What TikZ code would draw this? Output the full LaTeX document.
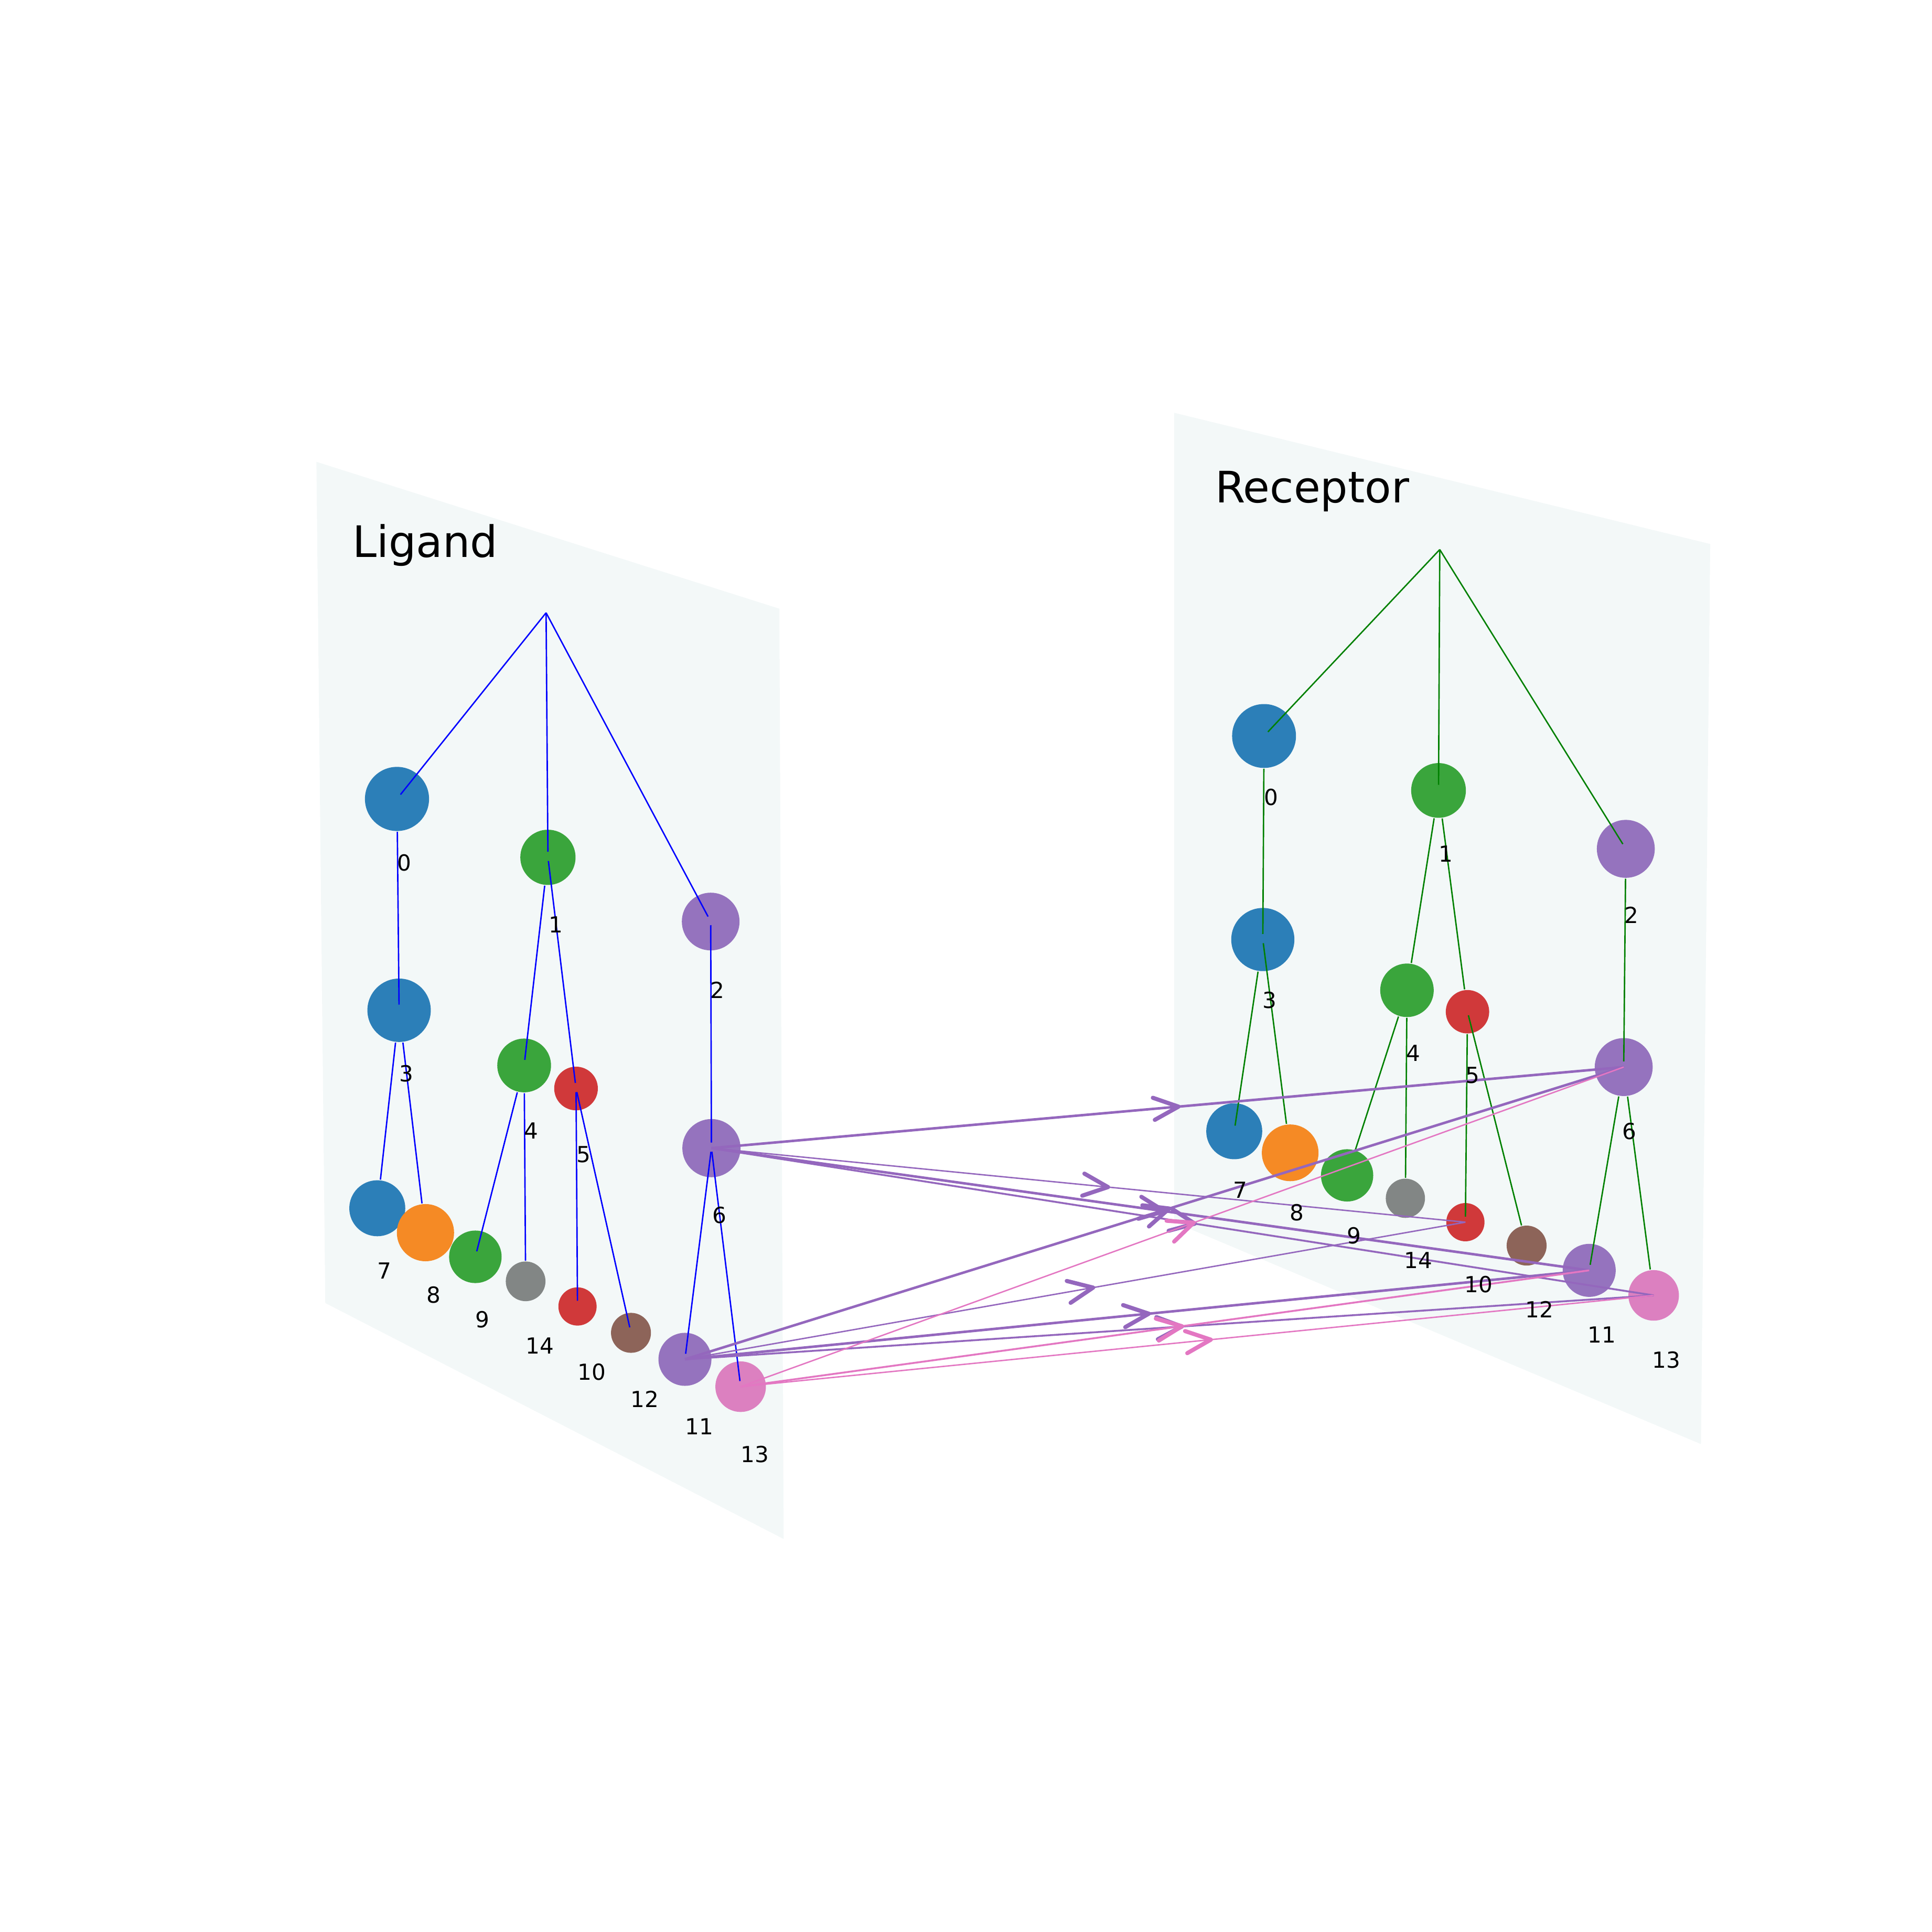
\documentclass[tikz,border=0pt]{standalone}
\usepackage{fontspec}
\setmainfont{DejaVu Sans}
\usetikzlibrary{calc,decorations.markings}
\definecolor{planec}{RGB}{243,248,248}
\definecolor{nblue}{RGB}{44,127,184}
\definecolor{norange}{RGB}{245,138,37}
\definecolor{ngreen}{RGB}{58,165,60}
\definecolor{nred}{RGB}{208,57,58}
\definecolor{npurple}{RGB}{149,115,190}
\definecolor{nbrown}{RGB}{141,100,89}
\definecolor{ngray}{RGB}{130,134,133}
\definecolor{npink}{RGB}{220,128,192}
\definecolor{apurple}{RGB}{148,103,189}
\definecolor{apink}{RGB}{227,119,194}
\definecolor{tgreen}{RGB}{0,128,0}
\begin{document}
\begin{tikzpicture}[x=0.01cm,y=-0.01cm,
  planefill/.style={fill=planec,draw=none},
  nd/.style 2 args={circle,fill=#1,draw=none,inner sep=0pt,minimum size=#2},
  lab/.style={font=\fontsize{5.1}{6}\selectfont,inner sep=0pt,text=black},
  ttl/.style={font=\fontsize{10}{12}\selectfont,inner sep=0pt,anchor=base west},
  edgeL/.style={draw=blue,line width=0.32pt},
  edgeR/.style={draw=tgreen,line width=0.32pt},
  fromc/.style={shorten <=0.85pt},
  toc/.style={shorten >=1.3pt},
  chev/.style 2 args={postaction={decorate,decoration={markings,
     mark=at position #1 with {\draw[#2,line width=0.95pt,line cap=round,line join=round]
       (-2.01mm,0.9mm) -- (0,0) -- (-2.01mm,-0.9mm);}}}},
  arP/.style={draw=apurple},
  arK/.style={draw=apink},
  thk/.style={line width=0.58pt},
  med/.style={line width=0.43pt},
  thn/.style={line width=0.32pt}]
\useasboundingbox (0,0) rectangle (1568,1568);
% planes
\fill[planefill] (256.8,374.8) -- (632.5,494) -- (636,1249) -- (264,1057.5) -- cycle;
\fill[planefill] (953,335) -- (1388,441.5) -- (1380.5,1172) -- (953,992) -- cycle;
% titles
\node[ttl] (tL) at (285.5,452.2) {Ligand};
\node[ttl] (tR) at (985.5,408) {Receptor};
% roots
\coordinate (rootL) at (443.2,497.3);
\coordinate (rootR) at (1168.5,446);
% ligand nodes
\node[nd={nblue}{0.520cm}] (L0) at (322.2,648.4) {};
\node[nd={ngreen}{0.448cm}] (L1) at (444.7,695.8) {};
\node[nd={npurple}{0.468cm}] (L2) at (576.8,747.9) {};
\node[nd={nblue}{0.514cm}] (L3) at (323.9,819.9) {};
\node[nd={ngreen}{0.436cm}] (L4) at (425.4,864.7) {};
\node[nd={nred}{0.354cm}] (L5) at (467.5,883.4) {};
\node[nd={npurple}{0.472cm}] (L6) at (577.4,931.8) {};
\node[nd={nblue}{0.454cm}] (L7) at (306.2,980.6) {};
\node[nd={norange}{0.464cm}] (L8) at (345.3,1000.4) {};
\node[nd={ngreen}{0.426cm}] (L9) at (385.8,1020.0) {};
\node[nd={ngray}{0.322cm}] (L14) at (426.6,1039.9) {};
\node[nd={nred}{0.310cm}] (L10) at (468.7,1060.3) {};
\node[nd={nbrown}{0.324cm}] (L12) at (512.1,1081.7) {};
\node[nd={npurple}{0.430cm}] (L11) at (555.9,1103.2) {};
\node[nd={npink}{0.410cm}] (L13) at (601.1,1125.4) {};
% receptor nodes
\node[nd={nblue}{0.518cm}] (R0) at (1025.9,597.3) {};
\node[nd={ngreen}{0.444cm}] (R1) at (1167.5,641.5) {};
\node[nd={npurple}{0.470cm}] (R2) at (1319.5,688.9) {};
\node[nd={nblue}{0.512cm}] (R3) at (1024.9,762.5) {};
\node[nd={ngreen}{0.434cm}] (R4) at (1141.9,803.7) {};
\node[nd={nred}{0.352cm}] (R5) at (1191.0,821.1) {};
\node[nd={npurple}{0.470cm}] (R6) at (1317.8,866.0) {};
\node[nd={nblue}{0.454cm}] (R7) at (1001.7,918.1) {};
\node[nd={norange}{0.460cm}] (R8) at (1047.1,935.6) {};
\node[nd={ngreen}{0.424cm}] (R9) at (1093.3,953.9) {};
\node[nd={ngray}{0.318cm}] (R14) at (1140.6,972.5) {};
\node[nd={nred}{0.310cm}] (R10) at (1189.3,991.9) {};
\node[nd={nbrown}{0.324cm}] (R12) at (1239.0,1010.9) {};
\node[nd={npurple}{0.430cm}] (R11) at (1289.8,1031.0) {};
\node[nd={npink}{0.410cm}] (R13) at (1342.1,1051.3) {};
% ligand tree edges
\draw[edgeL,toc] (rootL) -- (L0.center);
\draw[edgeL,toc] (rootL) -- (L1.center);
\draw[edgeL,toc] (rootL) -- (L2.center);
\draw[edgeL,toc] (L0) -- (L3.center);
\draw[edgeL,toc] (L1) -- (L4.center);
\draw[edgeL,fromc,toc] (L1.center) -- (L5.center);
\draw[edgeL,fromc,toc] (L2.center) -- (L6.center);
\draw[edgeL] (L3) -- (L7);
\draw[edgeL] (L3) -- (L8);
\draw[edgeL,toc] (L4) -- (L9.center);
\draw[edgeL] (L4) -- (L14);
\draw[edgeL,fromc,toc] (L5.center) -- (L10.center);
\draw[edgeL,fromc,toc] (L5.center) -- (L12.center);
\draw[edgeL,fromc,toc] (L6.center) -- (L11.center);
\draw[edgeL,fromc,toc] (L6.center) -- (L13.center);
% receptor tree edges
\draw[edgeR,toc] (rootR) -- (R0.center);
\draw[edgeR,toc] (rootR) -- (R1.center);
\draw[edgeR,toc] (rootR) -- (R2.center);
\draw[edgeR,toc] (R0) -- (R3.center);
\draw[edgeR,toc] (R3) -- (R7.center);
\draw[edgeR,fromc] (R3.center) -- (R8);
\draw[edgeR] (R1) -- (R4);
\draw[edgeR] (R1) -- (R5);
\draw[edgeR] (R4) -- (R9);
\draw[edgeR] (R4) -- (R14);
\draw[edgeR,toc] (R5) -- (R10.center);
\draw[edgeR,fromc] (R5.center) -- (R12);
\draw[edgeR,toc] (R2) -- (R6.center);
\draw[edgeR,toc] (R6) -- (R11.center);
\draw[edgeR] (R6) -- (R13);
% correspondence arrows
\draw[arP,thk,chev={0.512}{apurple}] (L6.center) -- (R6.center);
\draw[arP,thn,chev={0.526}{apurple}] (L6.center) -- (R10.center);
\draw[arP,thk,chev={0.516}{apurple}] (L6.center) -- (R11.center);
\draw[arP,med,chev={0.513}{apurple}] (L6.center) -- (R13.center);
\draw[arP,thk,chev={0.516}{apurple}] (L11.center) -- (R6.center);
\draw[arP,thn,chev={0.523}{apurple}] (L11.center) -- (R10.center);
\draw[arP,thk,chev={0.513}{apurple}] (L11.center) -- (R11.center);
\draw[arP,med,chev={0.513}{apurple}] (L11.center) -- (R13.center);
\draw[arK,thn,chev={0.513}{apink}] (L13.center) -- (R6.center);
\draw[arK,med,chev={0.520}{apink}] (L13.center) -- (R11.center);
\draw[arK,thn,chev={0.515}{apink}] (L13.center) -- (R13.center);
% ligand labels
\node[lab] (lL0) at (328.3,700.1) {0};
\node[lab] (lL1) at (451.2,750.5) {1};
\node[lab] (lL2) at (582.2,803.7) {2};
\node[lab] (lL3) at (329.9,871.2) {3};
\node[lab] (lL4) at (431.1,917.6) {4};
\node[lab] (lL5) at (473.7,937.1) {5};
\node[lab] (lL6) at (583.8,986.3) {6};
\node[lab] (lL7) at (312.1,1031.4) {7};
\node[lab] (lL8) at (352.1,1050.8) {8};
\node[lab] (lL9) at (391.7,1070.9) {9};
\node[lab] (lL14) at (438.1,1092.2) {14};
\node[lab] (lL10) at (480.2,1113.5) {10};
\node[lab] (lL12) at (523.4,1135.3) {12};
\node[lab] (lL11) at (567.6,1157.7) {11};
\node[lab] (lL13) at (612.8,1180.2) {13};
% receptor labels
\node[lab] (lR0) at (1031.5,646.9) {0};
\node[lab] (lR1) at (1173.2,693.1) {1};
\node[lab] (lR2) at (1324.2,742.7) {2};
\node[lab] (lR3) at (1030.3,811.6) {3};
\node[lab] (lR4) at (1147.0,854.7) {4};
\node[lab] (lR5) at (1195.3,872.7) {5};
\node[lab] (lR6) at (1322.3,918.3) {6};
\node[lab] (lR7) at (1006.5,965.8) {7};
\node[lab] (lR8) at (1052.4,984.3) {8};
\node[lab] (lR9) at (1099.0,1002.9) {9};
\node[lab] (lR14) at (1151.2,1022.8) {14};
\node[lab] (lR10) at (1199.9,1042.4) {10};
\node[lab] (lR12) at (1249.3,1062.7) {12};
\node[lab] (lR11) at (1300.1,1083.2) {11};
\node[lab] (lR13) at (1352.3,1103.6) {13};
\end{tikzpicture}
\end{document}
